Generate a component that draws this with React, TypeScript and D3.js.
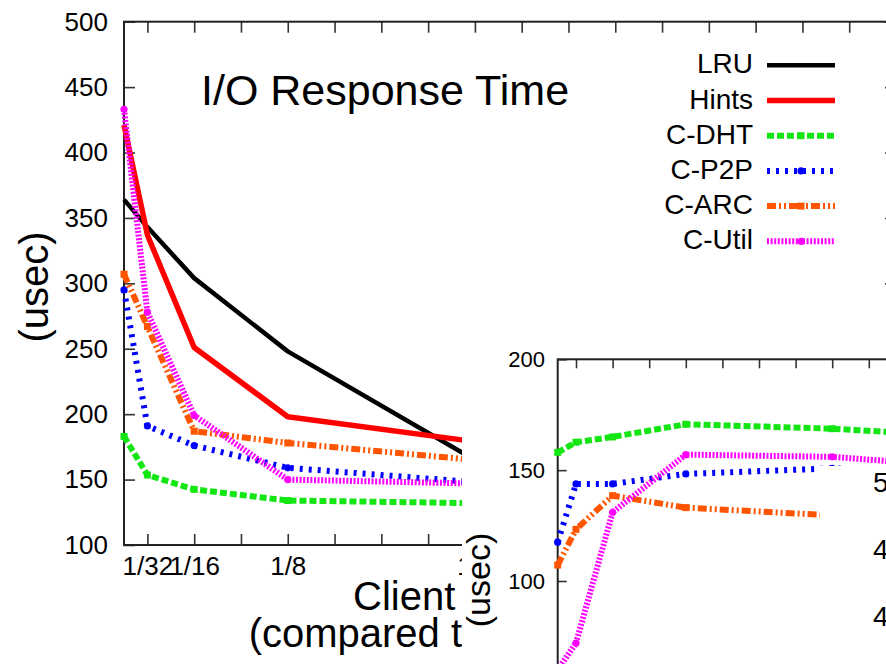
import React, { useEffect, useRef } from 'react';
import * as d3 from 'd3';

// x positions are fractions of the server cache size
const mainXs = [1 / 64, 1 / 32, 1 / 16, 1 / 8, 1 / 4];
const insetXs = [1 / 64, 1 / 32, 1 / 16, 1 / 8, 1 / 4, 1 / 2];
const xTickLabelValues = [1 / 32, 1 / 16, 1 / 8, 1 / 4, 1 / 2];
const xTickLabels = ['1/32', '1/16', '1/8', '1/4', '1/2'];

const seriesNames = ['LRU', 'Hints', 'C-DHT', 'C-P2P', 'C-ARC', 'C-Util'];

// main chart: I/O response time (usec)
const lruMain = [364, 343, 304, 248, 165];
const hintsMain = [421, 337, 251, 198, 179];
const dhtMain = [183, 153.5, 142.5, 134, 132];
const p2pMain = [295, 191, 176, 159, 148];
const arcMain = [307, 267, 187, 178, 165];
const utilMain = [433, 278, 199, 150, 147];

// inset chart (only the cooperative schemes are visible)
const dhtInset = [158, 162.6, 165, 170.7, 168.7, 161];
const p2pInset = [117.5, 143.8, 143.8, 148.3, 150.8, 146];
const arcInset = [107.2, 123.3, 138.5, 133.1, 129.6, 126];
const utilInset = [60, 72, 131, 157, 156, 146];

const mainYTicks = [100, 150, 200, 250, 300, 350, 400, 450, 500];
const insetYTicks = [0, 50, 100, 150, 200];
const thirdChartLabels = ['500', '450', '400', '350'];

const FONT = '"Liberation Sans", Arial, Helvetica, sans-serif';

const styles: Record<string, any> = {
    LRU: { color: '#000000', width: 4.5, dash: null, marker: null },
    Hints: { color: '#ff0000', width: 5.5, dash: null, marker: null },
    'C-DHT': { color: '#14e614', width: 6, dash: '7 3', marker: 'square' },
    'C-P2P': { color: '#0000ff', width: 6, dash: '3 6', marker: 'circle' },
    'C-ARC': { color: '#ff5500', width: 6, dash: '9 3 2 3 2 3', marker: 'square' },
    'C-Util': { color: '#ff00ff', width: 6, dash: '2 1.6', marker: 'circle' },
};

function drawMarker(g: any, kind: string | null, cx: number, cy: number, color: string) {
    if (kind === 'circle') {
        g.append('circle').attr('cx', cx).attr('cy', cy).attr('r', 3.6).attr('fill', color);
    } else if (kind === 'square') {
        g.append('rect')
            .attr('x', cx - 3.5)
            .attr('y', cy - 3.5)
            .attr('width', 7)
            .attr('height', 7)
            .attr('fill', color);
    }
}

function styleAxis(g: any, fontSize: number) {
    g.select('.domain').remove();
    g.selectAll('.tick line').attr('stroke', '#333').attr('stroke-width', 1.6);
    g.selectAll('.tick text')
        .attr('fill', '#000')
        .style('font-family', FONT)
        .style('font-size', fontSize + 'px');
}

function tickLabel(v: number) {
    const idx = xTickLabelValues.findIndex((t) => Math.abs(t - v) < 1e-9);
    return idx >= 0 ? xTickLabels[idx] : '';
}

function drawMain(svg: any) {
    const left = 124;
    const right = 896;
    const top = 21.7;
    const bottom = 545;
    const x = d3.scaleLinear().domain([1 / 64, 17 / 32]).range([left, right]);
    const y = d3.scaleLinear().domain([100, 500]).range([bottom, top]);
    const xTicks = d3.range(1, 17).map((i) => i / 32);

    const gl = svg
        .append('g')
        .attr('transform', `translate(${left},0)`)
        .call(d3.axisLeft(y).tickValues(mainYTicks).tickSize(-11).tickPadding(16).tickSizeOuter(0));
    styleAxis(gl, 26);
    const gr = svg
        .append('g')
        .attr('transform', `translate(${right},0)`)
        .call(d3.axisRight(y).tickValues(mainYTicks).tickSize(-11).tickFormat(() => ''));
    styleAxis(gr, 26);
    const gb = svg
        .append('g')
        .attr('transform', `translate(0,${bottom})`)
        .call(
            d3
                .axisBottom(x)
                .tickValues(xTicks)
                .tickSize(-11)
                .tickPadding(11.5)
                .tickFormat((d: any) => tickLabel(+d))
        );
    styleAxis(gb, 26);
    const gt = svg
        .append('g')
        .attr('transform', `translate(0,${top})`)
        .call(d3.axisTop(x).tickValues(xTicks).tickSize(-11).tickFormat(() => ''));
    styleAxis(gt, 26);

    svg.append('rect')
        .attr('x', left)
        .attr('y', top)
        .attr('width', right - left)
        .attr('height', bottom - top)
        .attr('fill', 'none')
        .attr('stroke', '#222')
        .attr('stroke-width', 2);

    const values = [lruMain, hintsMain, dhtMain, p2pMain, arcMain, utilMain];
    const line = d3
        .line<number>()
        .x((d, i) => x(mainXs[i]))
        .y((d) => y(d));
    values.forEach((vals, si) => {
        const st = styles[seriesNames[si]];
        svg.append('path')
            .attr('d', line(vals))
            .attr('fill', 'none')
            .attr('stroke', st.color)
            .attr('stroke-width', st.width)
            .attr('stroke-dasharray', st.dash)
            .attr('stroke-linejoin', 'round');
        const mg = svg.append('g');
        vals.forEach((v, i) => drawMarker(mg, st.marker, x(mainXs[i]), y(v), st.color));
    });

    // title
    svg.append('text')
        .attr('x', 201)
        .attr('y', 105)
        .style('font-family', FONT)
        .style('font-size', '43px')
        .text('I/O Response Time');

    // legend
    seriesNames.forEach((name, i) => {
        const base = 73.3 + i * 35.2;
        const st = styles[name];
        svg.append('text')
            .attr('x', 753)
            .attr('y', base)
            .attr('text-anchor', 'end')
            .style('font-family', FONT)
            .style('font-size', '28px')
            .text(name);
        svg.append('line')
            .attr('x1', 767)
            .attr('x2', 835)
            .attr('y1', base - 8)
            .attr('y2', base - 8)
            .attr('stroke', st.color)
            .attr('stroke-width', st.width)
            .attr('stroke-dasharray', st.dash);
        drawMarker(svg.append('g'), st.marker, 801, base - 8, st.color);
    });

    // axis titles
    svg.append('text')
        .attr('transform', `translate(48,287) rotate(-90)`)
        .attr('text-anchor', 'middle')
        .style('font-family', FONT)
        .style('font-size', '40px')
        .text('(usec)');
    svg.append('text')
        .attr('x', (left + right) / 2 + 2)
        .attr('y', 610)
        .attr('text-anchor', 'middle')
        .style('font-family', FONT)
        .style('font-size', '40px')
        .text('Client Cache Size');
    svg.append('text')
        .attr('x', (left + right) / 2 - 9)
        .attr('y', 647)
        .attr('text-anchor', 'middle')
        .style('font-family', FONT)
        .style('font-size', '40px')
        .text('(compared to Server Cache)');
}

function drawInset(svg: any) {
    svg.append('rect').attr('x', 462).attr('y', 340).attr('width', 500).attr('height', 400).attr('fill', '#fff');

    const left = 557.7;
    const top = 359.3;
    const bottom = 802.7;
    const right = left + 33 * 18.3;
    const x = d3.scaleLinear().domain([1 / 64, 17 / 32]).range([left, right]);
    const y = d3.scaleLinear().domain([0, 200]).range([bottom, top]);
    const xTicks = d3.range(1, 17).map((i) => i / 32);

    const gl = svg
        .append('g')
        .attr('transform', `translate(${left},0)`)
        .call(d3.axisLeft(y).tickValues(insetYTicks).tickSize(-9).tickPadding(12.7).tickSizeOuter(0));
    styleAxis(gl, 22);
    const gt = svg
        .append('g')
        .attr('transform', `translate(0,${top})`)
        .call(d3.axisTop(x).tickValues(xTicks).tickSize(-9).tickFormat(() => ''));
    styleAxis(gt, 22);
    svg.append('rect')
        .attr('x', left)
        .attr('y', top)
        .attr('width', right - left)
        .attr('height', bottom - top)
        .attr('fill', 'none')
        .attr('stroke', '#222')
        .attr('stroke-width', 2);

    const names = ['C-DHT', 'C-P2P', 'C-ARC', 'C-Util'];
    const values = [dhtInset, p2pInset, arcInset, utilInset];
    const line = d3
        .line<number>()
        .x((d, i) => x(insetXs[i]))
        .y((d) => y(d));
    values.forEach((vals, si) => {
        const st = styles[names[si]];
        svg.append('path')
            .attr('d', line(vals))
            .attr('fill', 'none')
            .attr('stroke', st.color)
            .attr('stroke-width', st.width)
            .attr('stroke-dasharray', st.dash)
            .attr('stroke-linejoin', 'round');
        const mg = svg.append('g');
        vals.forEach((v, i) => drawMarker(mg, st.marker, x(insetXs[i]), y(v), st.color));
    });

    svg.append('text')
        .attr('transform', `translate(490,580) rotate(-90)`)
        .attr('text-anchor', 'middle')
        .style('font-family', FONT)
        .style('font-size', '34px')
        .text('(usec)');
}

function drawThird(svg: any) {
    // a further panel overlapping from the lower right
    svg.append('rect').attr('x', 820).attr('y', 466).attr('width', 100).attr('height', 220).attr('fill', '#fff');
    thirdChartLabels.forEach((t, i) => {
        svg.append('text')
            .attr('x', 873)
            .attr('y', 482 + i * 67)
            .attr('dy', '0.35em')
            .style('font-family', FONT)
            .style('font-size', '28px')
            .text(t);
    });
}

export default function App() {
    const ref = useRef<SVGSVGElement>(null);

    useEffect(() => {
        document.body.style.margin = '0';
        const svg = d3.select(ref.current);
        svg.selectAll('*').remove();
        svg.append('rect').attr('width', 886).attr('height', 664).attr('fill', '#fff');
        drawMain(svg);
        drawInset(svg);
        drawThird(svg);
    }, []);

    return <svg ref={ref} width={886} height={664} style={{ display: 'block' }} />;
}
